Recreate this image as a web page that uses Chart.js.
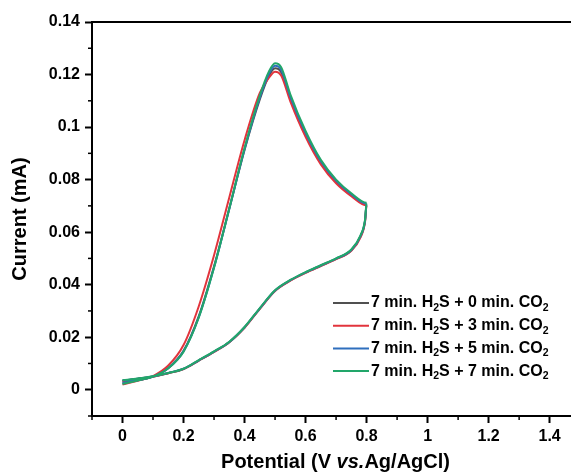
<!DOCTYPE html>
<html lang="en">
<head>
    <meta charset="UTF-8">
    <title>Cyclic voltammograms</title>
    <script src="https://cdn.jsdelivr.net/npm/chart.js@4.4.0/dist/chart.umd.min.js"></script>
    <style>
        html, body { margin: 0; padding: 0; background: #fff; }
        #wrap { width: 571px; height: 475px; }
    </style>
</head>
<body>
<div id="wrap"><canvas id="cvChart" width="571" height="475"></canvas></div>

<script>
    // potential (V): forward scan 0 -> 0.8, then reverse 0.8 -> 0
    const potential = [0, 0.05, 0.1, 0.15, 0.2, 0.25, 0.3, 0.35, 0.4, 0.45, 0.48, 0.5, 0.52, 0.55, 0.6, 0.65, 0.7, 0.75, 0.8,
        0.795, 0.78, 0.75, 0.7, 0.65, 0.6, 0.55, 0.5, 0.45, 0.4, 0.35, 0.3, 0.25, 0.2, 0.15, 0.1, 0.05, 0];

    // current (mA), same order as potential
    const current0min = [0.0028, 0.0037, 0.0050, 0.0083, 0.0148, 0.0280, 0.0470, 0.0690, 0.0913, 0.1105, 0.1195, 0.1224, 0.1209, 0.1108, 0.0972, 0.0865, 0.0792, 0.0741, 0.0705,
        0.0643, 0.0583, 0.0531, 0.0498, 0.0472, 0.0446, 0.0416, 0.0377, 0.0309, 0.0237, 0.0181, 0.0144, 0.0111, 0.0079, 0.0063, 0.0050, 0.0042, 0.0034];
    const current3min = [0.0020, 0.0034, 0.0052, 0.0092, 0.0170, 0.0318, 0.0512, 0.0732, 0.0950, 0.1130, 0.1188, 0.1211, 0.1196, 0.1098, 0.0963, 0.0858, 0.0786, 0.0737, 0.0702,
        0.0640, 0.0580, 0.0529, 0.0497, 0.0471, 0.0445, 0.0415, 0.0376, 0.0308, 0.0236, 0.0181, 0.0144, 0.0111, 0.0079, 0.0063, 0.0049, 0.0041, 0.0033];
    const current5min = [0.0025, 0.0036, 0.0050, 0.0082, 0.0146, 0.0276, 0.0465, 0.0688, 0.0916, 0.1112, 0.1203, 0.1233, 0.1218, 0.1116, 0.0978, 0.0870, 0.0796, 0.0744, 0.0708,
        0.0645, 0.0585, 0.0532, 0.0499, 0.0473, 0.0447, 0.0417, 0.0378, 0.0310, 0.0238, 0.0182, 0.0145, 0.0112, 0.0080, 0.0064, 0.0050, 0.0042, 0.0035];
    const current7min = [0.0022, 0.0035, 0.0050, 0.0082, 0.0145, 0.0275, 0.0465, 0.0690, 0.0920, 0.1120, 0.1212, 0.1243, 0.1228, 0.1125, 0.0985, 0.0875, 0.0800, 0.0748, 0.0712,
        0.0648, 0.0588, 0.0534, 0.0500, 0.0474, 0.0448, 0.0418, 0.0379, 0.0311, 0.0239, 0.0183, 0.0146, 0.0113, 0.0080, 0.0064, 0.0051, 0.0043, 0.0036];

    const co2Minutes = ['0', '3', '5', '7'];
    const xTickLabels = [0, 0.2, 0.4, 0.6, 0.8, 1, 1.2, 1.4];
    const yTickLabels = [0, 0.02, 0.04, 0.06, 0.08, 0.1, 0.12, 0.14];

    const colors = ['#505050', '#e2343c', '#2f6fbd', '#22a66a'];
    const seriesCurrents = [current0min, current3min, current5min, current7min];

    const FONT = '"Liberation Sans", Arial, sans-serif';

    const datasets = seriesCurrents.map((cur, i) => ({
        label: '7 min. H2S + ' + co2Minutes[i] + ' min. CO2',
        data: potential.map((v, k) => ({ x: v, y: cur[k] })),
        borderColor: colors[i],
        borderWidth: 2,
        pointRadius: 0,
        showLine: true,
        fill: false,
        cubicInterpolationMode: 'monotone',
        order: 4 - i   // green drawn last (on top)
    }));

    // minor ticks, top frame line, legend with subscripts and x title with italic part
    const decorations = {
        id: 'decorations',
        afterDraw(chart) {
            const ctx = chart.ctx;
            const area = chart.chartArea;
            const xs = chart.scales.x, ys = chart.scales.y;
            ctx.save();
            ctx.strokeStyle = '#000';
            ctx.lineWidth = 2;
            ctx.beginPath();
            ctx.moveTo(area.left - 1, area.top);
            ctx.lineTo(chart.width, area.top);
            ctx.stroke();

            ctx.lineWidth = 1.5;
            xs.ticks.forEach(t => {
                if (xTickLabels.includes(Number(t.value.toFixed(1)))) return;
                const px = xs.getPixelForValue(t.value);
                ctx.beginPath();
                ctx.moveTo(px, area.bottom);
                ctx.lineTo(px, area.bottom + 4);
                ctx.stroke();
            });
            ys.ticks.forEach(t => {
                if (yTickLabels.includes(Number(t.value.toFixed(2)))) return;
                const py = ys.getPixelForValue(t.value);
                ctx.beginPath();
                ctx.moveTo(area.left, py);
                ctx.lineTo(area.left - 4, py);
                ctx.stroke();
            });

            // legend
            const big = 'bold 16px ' + FONT;
            const small = 'bold 10.5px ' + FONT;
            ctx.textBaseline = 'middle';
            ctx.fillStyle = '#000';
            co2Minutes.forEach((m, i) => {
                const y = 303 + i * 22.7;
                ctx.strokeStyle = colors[i];
                ctx.lineWidth = 2;
                ctx.beginPath();
                ctx.moveTo(333, y);
                ctx.lineTo(369, y);
                ctx.stroke();
                const parts = [['7 min. H', 0], ['2', 1], ['S + ' + m + ' min. CO', 0], ['2', 1]];
                let x = 371;
                parts.forEach(([txt, sub]) => {
                    ctx.font = sub ? small : big;
                    ctx.fillText(txt, x, sub ? y + 5 : y);
                    x += ctx.measureText(txt).width;
                });
            });

            // x axis title
            const tParts = [['Potential (V ', false], ['vs.', true], ['Ag/AgCl)', false]];
            let total = 0;
            tParts.forEach(([txt, it]) => {
                ctx.font = (it ? 'italic ' : '') + 'bold 20px ' + FONT;
                total += ctx.measureText(txt).width;
            });
            let tx = (area.left + area.right) / 2 + 4 - total / 2;
            tParts.forEach(([txt, it]) => {
                ctx.font = (it ? 'italic ' : '') + 'bold 20px ' + FONT;
                ctx.fillText(txt, tx, 462);
                tx += ctx.measureText(txt).width;
            });
            ctx.restore();
        }
    };

    new Chart(document.getElementById('cvChart'), {
        type: 'scatter',
        data: { datasets },
        options: {
            responsive: false,
            animation: false,
            layout: { padding: { top: 22, right: 0, left: 0, bottom: 0 } },
            plugins: { legend: { display: false }, tooltip: { enabled: false } },
            scales: {
                x: {
                    type: 'linear',
                    min: -0.1,
                    max: 1.47,
                    afterFit: s => { s.height = 59; },
                    border: { color: '#000', width: 2 },
                    grid: {
                        drawOnChartArea: false,
                        tickLength: 7,
                        tickWidth: 2,
                        tickColor: c => (c.tick && xTickLabels.includes(Number(c.tick.value.toFixed(1)))) ? '#000' : 'rgba(0,0,0,0)'
                    },
                    ticks: {
                        stepSize: 0.1,
                        includeBounds: false,
                        autoSkip: false,
                        maxRotation: 0,
                        padding: 4,
                        color: '#000',
                        font: { family: FONT, size: 16, weight: 'bold' },
                        callback: v => xTickLabels.includes(Number(v.toFixed(1))) ? String(Number(v.toFixed(1))) : ''
                    }
                },
                y: {
                    min: -0.01,
                    max: 0.14,
                    afterFit: s => { s.width = 92; },
                    border: { color: '#000', width: 2 },
                    grid: {
                        drawOnChartArea: false,
                        tickLength: 7,
                        tickWidth: 2,
                        tickColor: c => (c.tick && yTickLabels.includes(Number(c.tick.value.toFixed(2)))) ? '#000' : 'rgba(0,0,0,0)'
                    },
                    ticks: {
                        stepSize: 0.01,
                        includeBounds: false,
                        autoSkip: false,
                        padding: 5,
                        color: '#000',
                        font: { family: FONT, size: 16, weight: 'bold' },
                        callback: v => yTickLabels.includes(Number(v.toFixed(2))) ? String(Number(v.toFixed(2))) : ''
                    },
                    title: {
                        display: true,
                        text: 'Current (mA)',
                        color: '#000',
                        padding: { top: 8 },
                        font: { family: FONT, size: 20, weight: 'bold' }
                    }
                }
            }
        },
        plugins: [decorations]
    });
</script>
</body>
</html>
